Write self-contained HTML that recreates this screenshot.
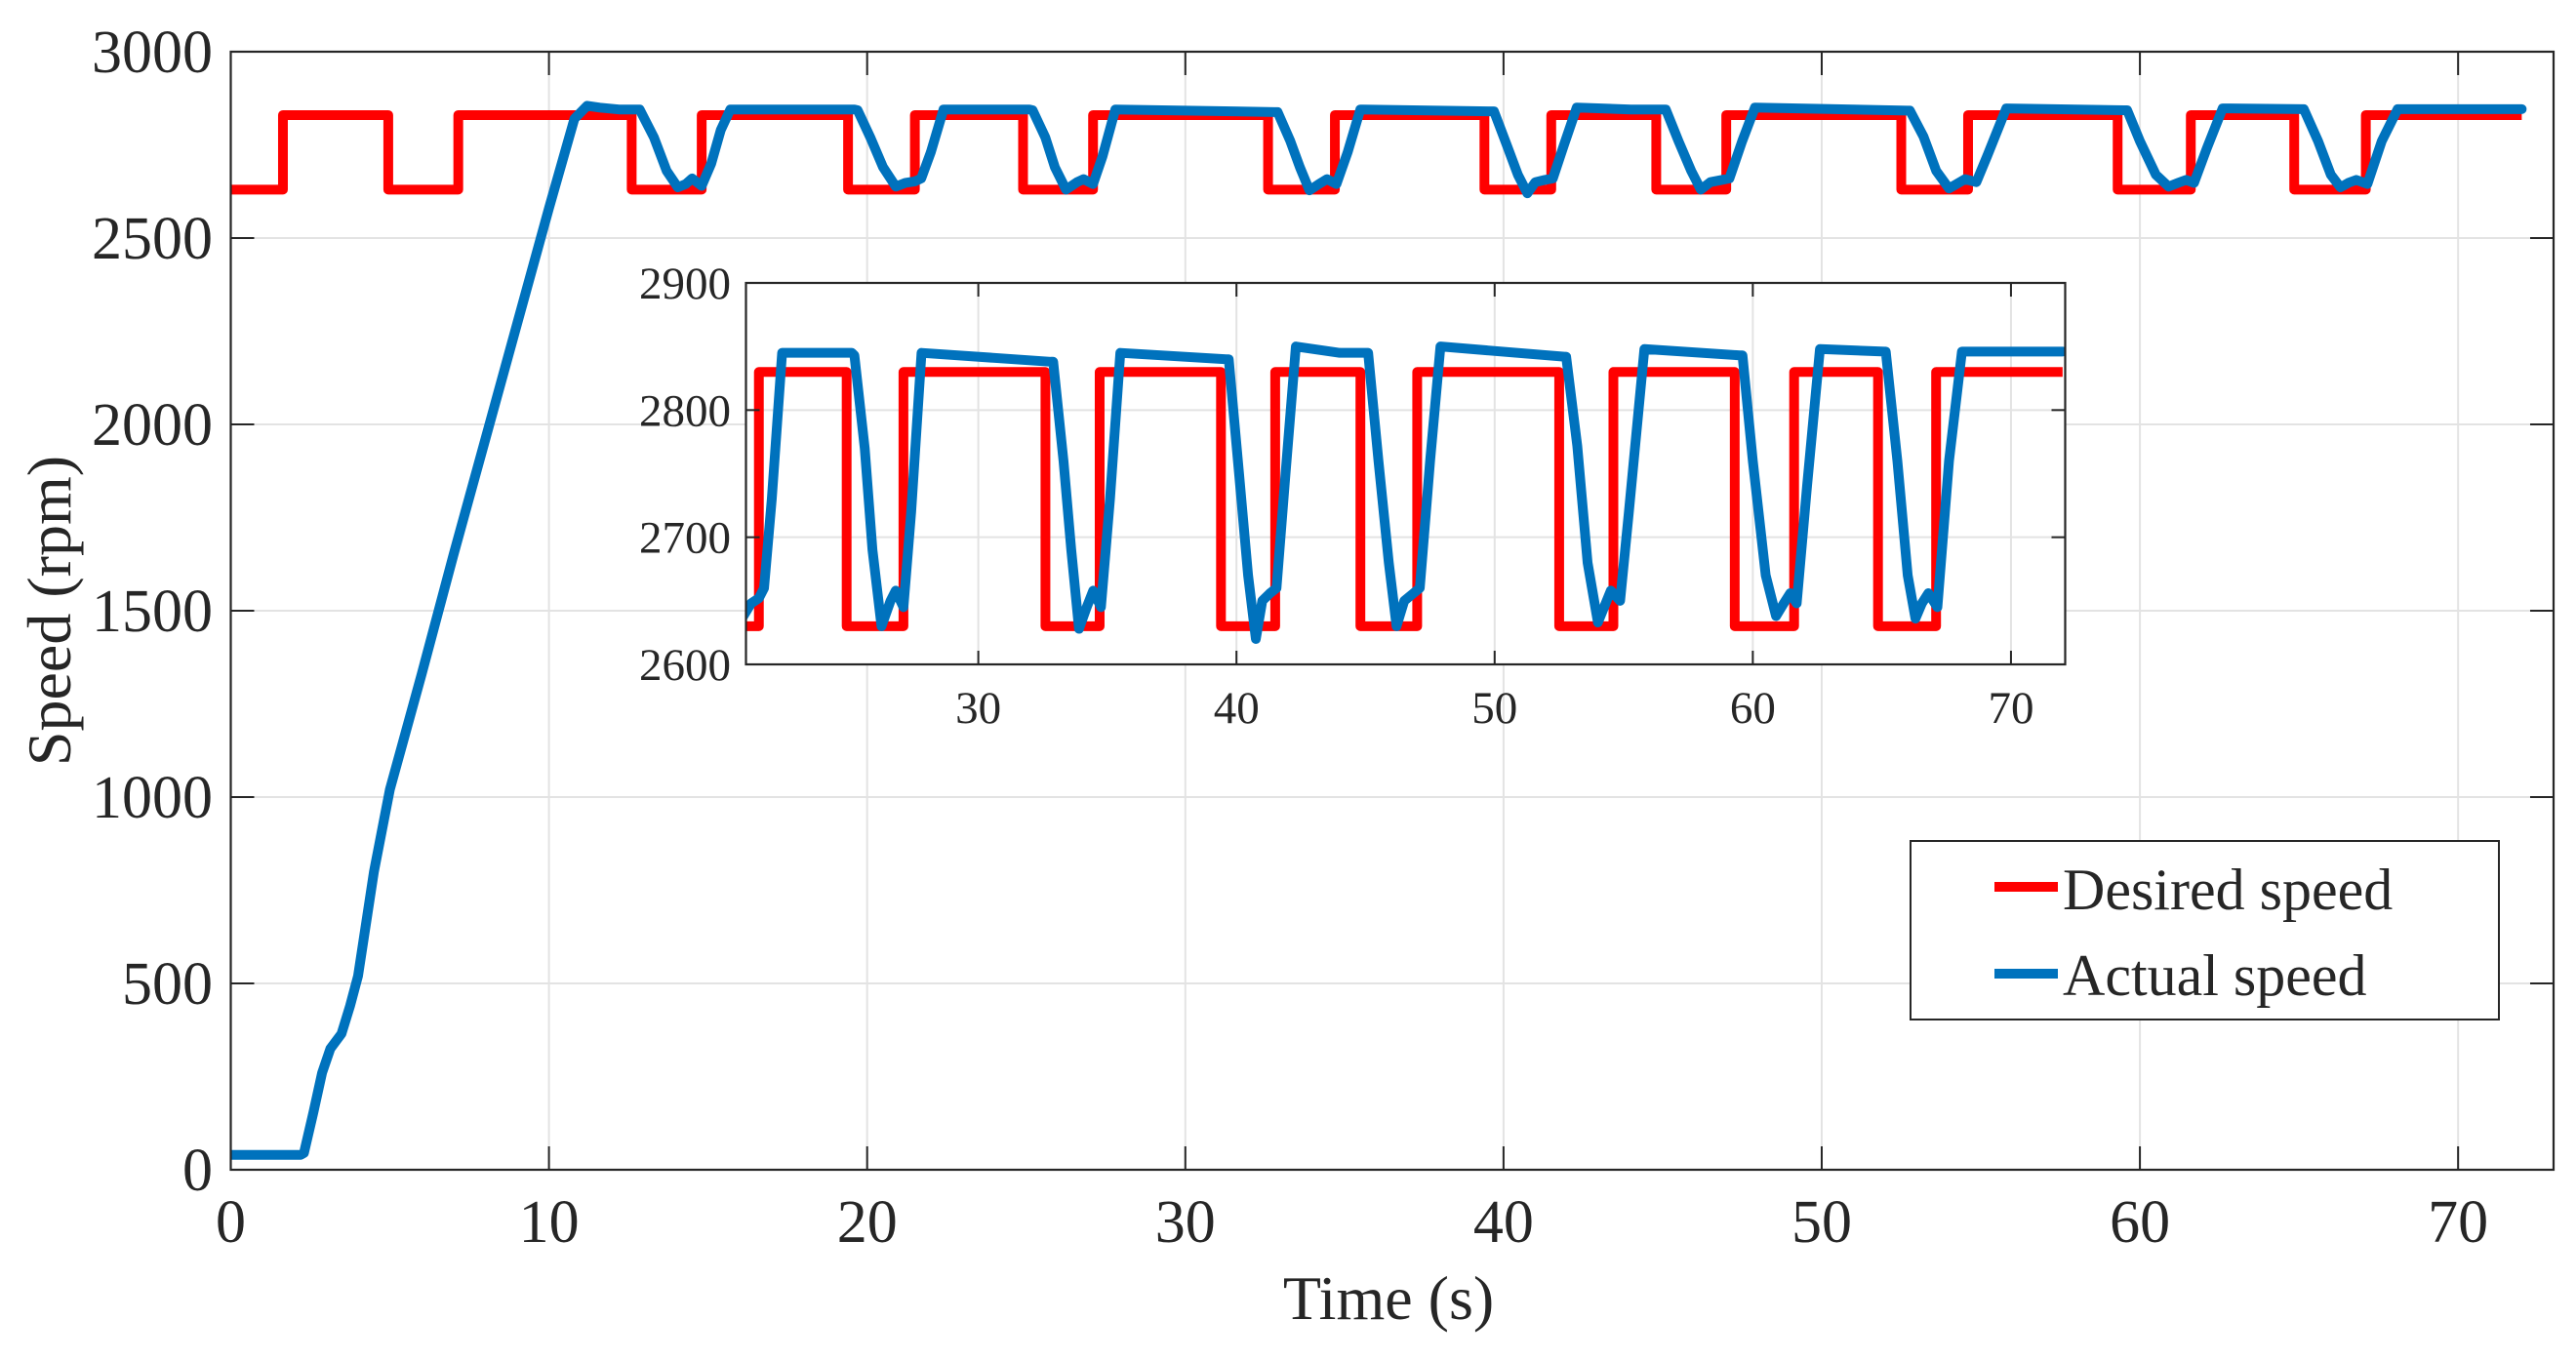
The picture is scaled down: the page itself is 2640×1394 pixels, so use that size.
<!DOCTYPE html>
<html><head><meta charset="utf-8"><style>
html,body{margin:0;padding:0;background:#fff;width:2640px;height:1394px;overflow:hidden;}
svg{display:block;}
text{font-family:"Liberation Serif",serif;fill:#262626;}
</style></head><body>
<svg id="chart" width="2640" height="1394" viewBox="0 0 2640 1394" xmlns="http://www.w3.org/2000/svg">
<defs>
<clipPath id="mainClip"><rect x="236.5" y="53" width="2380.5" height="1146"/></clipPath>
<clipPath id="insetClip"><rect x="764.5" y="290" width="1352" height="391"/></clipPath>
</defs>
<g id="main"></g>
<g id="inset"></g>
<g id="legend"></g>
</svg>
<script>
// ---- data ----
const xTicks = [0,10,20,30,40,50,60,70];
const yTicks = [0,500,1000,1500,2000,2500,3000];
const insetXTicks = [30,40,50,60,70];
const insetYTicks = [2600,2700,2800,2900];
const desiredT = [0,1.64,4.95,7.15,12.6,14.8,19.4,21.5,24.9,27.1,32.6,34.7,39.4,41.5,44.8,47.0,52.5,54.6,59.3,61.6,64.85,67.1,72];
const desiredV = [2630,2830,2630,2830,2630,2830,2630,2830,2630,2830,2630,2830,2630,2830,2630,2830,2630,2830,2630,2830,2630,2830,2830];
const actualT = [0,2.2,2.3,2.6,2.87,3.13,3.48,3.75,4.0,4.5,5,6,7,8,9,10,10.8,11.2,11.6,12.2,
12.85,13.3,13.7,14.05,14.3,14.5,14.8,15.1,15.4,15.7,19.6,
19.7,20.1,20.5,20.9,21.2,21.5,21.7,22.0,22.4,25.1,
25.2,25.6,25.9,26.25,26.6,26.8,27.1,27.4,27.8,32.8,
32.9,33.3,33.6,33.9,34.2,34.45,34.75,35.1,35.5,39.6,
39.7,40.1,40.45,40.75,41.0,41.3,41.55,41.9,42.3,44.0,45.0,
45.1,45.5,45.9,46.2,46.5,46.8,47.1,47.5,47.9,52.7,
52.77,53.2,53.6,54.0,54.5,54.86,55.2,55.8,59.5,
59.6,60.0,60.5,60.9,61.2,61.45,61.7,62.1,62.6,65.1,
65.15,65.6,66.0,66.3,66.55,66.8,67.15,67.6,68.1,72];
const actualV = [40,40,45,155,260,325,365,440,520,800,1020,1330,1650,1960,2270,2580,2820,2855,2850,2845,
2845,2770,2680,2636,2645,2660,2640,2700,2790,2845,2845,
2843,2770,2690,2638,2648,2652,2660,2730,2845,2845,
2843,2770,2690,2630,2650,2658,2645,2720,2845,2838,
2838,2760,2690,2628,2645,2658,2645,2730,2845,2840,
2840,2750,2670,2620,2650,2656,2660,2750,2850,2845,2845,
2845,2760,2680,2630,2650,2655,2660,2760,2850,2842,
2842,2772,2680,2633,2658,2650,2720,2848,2843,
2843,2760,2670,2638,2648,2656,2648,2740,2848,2846,
2846,2760,2670,2636,2648,2656,2645,2760,2846,2846];

const NS = "http://www.w3.org/2000/svg";
function mk(tag, attrs, parent){const e=document.createElementNS(NS,tag);for(const k in attrs)e.setAttribute(k,attrs[k]);parent.appendChild(e);return e;}

function drawAxes(g, box, xdom, ydom, xt, yt, opt){
  const sx = v => box.x + (v - xdom[0])/(xdom[1]-xdom[0])*box.w;
  const sy = v => box.y + box.h - (v - ydom[0])/(ydom[1]-ydom[0])*box.h;
  const bg = mk('rect',{x:box.x,y:box.y,width:box.w,height:box.h,fill:'#fff'},g);
  
  
  xt.forEach(v=>{
    const gl = mk('line',{x1:sx(v),x2:sx(v),y1:box.y,y2:box.y+box.h,stroke:'#e3e3e3','stroke-width':2},g);
    
    
  });
  yt.forEach(v=>{
    const gl = mk('line',{x1:box.x,x2:box.x+box.w,y1:sy(v),y2:sy(v),stroke:'#e3e3e3','stroke-width':2},g);
    
    
  });
  return {sx, sy};
}
function drawFrame(g, box, xt, yt, s, opt){
  const fr = mk('rect',{x:box.x,y:box.y,width:box.w,height:box.h,fill:'none',stroke:'#262626','stroke-width':2.2},g);
  
  
  xt.forEach(v=>{
    const x=s.sx(v);
    mk('line',{x1:x,x2:x,y1:box.y+box.h,y2:box.y+box.h-opt.tick,stroke:'#262626','stroke-width':2},g);
    mk('line',{x1:x,x2:x,y1:box.y,y2:box.y+opt.tick,stroke:'#262626','stroke-width':2},g);
    const t = mk('text',{x:x,y:opt.xLabelY,'font-size':opt.fs,'text-anchor':'middle'},g);
    t.textContent = v;
    
    
  });
  yt.forEach(v=>{
    const y=s.sy(v);
    mk('line',{x1:box.x,x2:box.x+opt.tick,y1:y,y2:y,stroke:'#262626','stroke-width':2},g);
    mk('line',{x1:box.x+box.w,x2:box.x+box.w-opt.tick,y1:y,y2:y,stroke:'#262626','stroke-width':2},g);
    const t = mk('text',{x:opt.yLabelX,y:y+opt.yOff,'font-size':opt.fs,'text-anchor':'end'},g);
    t.textContent = v;
    
    
  });
}
function stepPath(s){
  let d = '';
  for(let i=0;i<desiredT.length;i++){
    const x=s.sx(desiredT[i]);
    if(i===0) d += 'M'+x+','+s.sy(desiredV[0]);
    else d += 'L'+x+','+s.sy(desiredV[i-1])+'L'+x+','+s.sy(desiredV[i]);
  }
  return d;
}
function linePath(s){
  return actualT.map((t,i)=>(i?'L':'M')+s.sx(t)+','+s.sy(actualV[i])).join('');
}
function drawSeries(g, s, clip, prefix){
  const gg = mk('g',{'clip-path':'url(#'+clip+')'},g);
  const r = mk('path',{d:stepPath(s),fill:'none',stroke:'#ff0000','stroke-width':10,'stroke-linejoin':'round'},gg);
  
  
  const b = mk('path',{d:linePath(s),fill:'none',stroke:'#0072bd','stroke-width':10,'stroke-linejoin':'round','stroke-linecap':'round'},gg);
  
  
}

// main axes
const gMain = document.getElementById('main');
const mainBox = {x:236.5,y:53,w:2380.5,h:1146};
const ms = drawAxes(gMain, mainBox, [0,73], [0,3000], xTicks, yTicks, {prefix:''});
drawSeries(gMain, ms, 'mainClip', '');
drawFrame(gMain, mainBox, xTicks, yTicks, ms, {prefix:'', tick:24, fs:62, xLabelY:1273, yLabelX:218, yOff:21});
const xl = mk('text',{x:1423,y:1352,'font-size':64,'text-anchor':'middle'},gMain);
xl.textContent='Time (s)';


const yl = mk('text',{x:0,y:0,'font-size':64,'text-anchor':'middle',transform:'translate(72,626) rotate(-90)'},gMain);
yl.textContent='Speed (rpm)';



// inset axes
const gIn = document.getElementById('inset');
const inBox = {x:764.5,y:290,w:1352,h:391};
const is = drawAxes(gIn, inBox, [21,72.1], [2600,2900], insetXTicks, insetYTicks, {prefix:'inset-'});
drawSeries(gIn, is, 'insetClip', 'inset-');
drawFrame(gIn, inBox, insetXTicks, insetYTicks, is, {prefix:'inset-', tick:14, fs:47, xLabelY:741, yLabelX:749, yOff:16});

// legend
const gL = document.getElementById('legend');
const lb = mk('rect',{x:1958,y:862,width:603,height:183,fill:'#fff',stroke:'#262626','stroke-width':2},gL);


const l1 = mk('line',{x1:2044,x2:2109,y1:909,y2:909,stroke:'#ff0000','stroke-width':10},gL);


const t1 = mk('text',{x:2114,y:932,'font-size':60},gL);
t1.textContent='Desired speed';


const l2 = mk('line',{x1:2044,x2:2109,y1:998,y2:998,stroke:'#0072bd','stroke-width':10},gL);


const t2 = mk('text',{x:2114,y:1020,'font-size':60},gL);
t2.textContent='Actual speed';


</script>
</body></html>
